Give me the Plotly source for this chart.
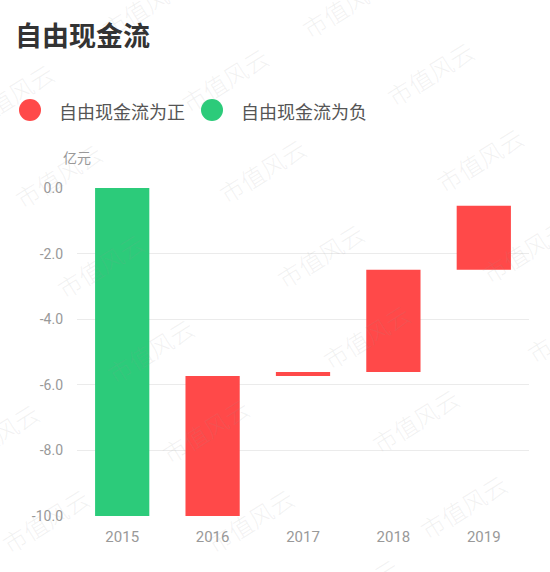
import numpy as np
import plotly.graph_objects as go

# ---- data ----
years = ["2015", "2016", "2017", "2018", "2019"]
fcf_change = [-10.0, 4.27, 0.12, 3.12, 1.95]   # 亿元, yearly free cash flow
y_tickvals = [0, -2, -4, -6, -8, -10]
y_ticktext = ["0.0", "-2.0", "-4.0", "-6.0", "-8.0", "-10.0"]
pos_name = "自由现金流为正"
neg_name = "自由现金流为负"
title_text = "自由现金流"
unit_text = "亿元"
watermark = "市值风云"

RED = "#FF4949"
GREEN = "#2CCB7A"

vals = np.array(fcf_change)
ends = np.cumsum(vals)
bases = ends - vals

pos_idx = [i for i, v in enumerate(vals) if v >= 0]
neg_idx = [i for i, v in enumerate(vals) if v < 0]

fig = go.Figure()
fig.add_trace(go.Bar(
    x=[years[i] for i in neg_idx], y=[vals[i] for i in neg_idx],
    base=[bases[i] for i in neg_idx], name=neg_name,
    marker=dict(color=GREEN, line=dict(width=0)), width=0.6, showlegend=False))
fig.add_trace(go.Bar(
    x=[years[i] for i in pos_idx], y=[vals[i] for i in pos_idx],
    base=[bases[i] for i in pos_idx], name=pos_name,
    marker=dict(color=RED, line=dict(width=0)), width=0.6, showlegend=False))

W, H = 550, 572
L, R, T, B = 77, 529, 188, 516


def px(x):
    return (x - L) / (R - L)


def py(y):
    return (B - y) / (B - T)


FONT = "Roboto, 'Noto Sans CJK SC', sans-serif"
CJK = "'Noto Sans CJK SC', sans-serif"

annotations = []
shapes = []

# title
annotations.append(dict(text=f"<b>{title_text}</b>", xref="paper", yref="paper",
                        x=px(13), y=py(34), xanchor="left", yanchor="middle",
                        showarrow=False, font=dict(family=CJK, size=27, color="#333333")))
# legend (manual, circle markers)
for cx, tx, col, name in [(30, 57, RED, pos_name), (212, 239, GREEN, neg_name)]:
    shapes.append(dict(type="circle", xref="paper", yref="paper",
                       xsizemode="pixel", ysizemode="pixel",
                       xanchor=px(cx), yanchor=py(110),
                       x0=-11, x1=11, y0=-11, y1=11,
                       fillcolor=col, line=dict(width=0)))
    annotations.append(dict(text=name, xref="paper", yref="paper",
                            x=px(tx), y=py(111), xanchor="left", yanchor="middle",
                            showarrow=False, font=dict(family=CJK, size=18, color="#555555")))
# unit
annotations.append(dict(text=unit_text, xref="paper", yref="paper",
                        x=px(61), y=py(157), xanchor="left", yanchor="middle",
                        showarrow=False, font=dict(family=CJK, size=14, color="#999999")))

# watermarks
wm_centers = [(145, 5), (345, 5), (10, 95), (225, 80), (430, 73), (58, 175), (262, 170),
              (480, 160), (100, 265), (320, 255), (525, 250), (150, 350), (366, 336),
              (570, 330), (-5, 435), (205, 430), (415, 420), (45, 520), (250, 520),
              (463, 506), (355, 590)]
for (cx, cy) in wm_centers:
    annotations.append(dict(text=watermark, xref="paper", yref="paper",
                            x=px(cx), y=py(cy), xanchor="center", yanchor="middle",
                            textangle=-32, showarrow=False,
                            font=dict(family=CJK, size=24, weight=300,
                                      color="rgba(150,150,150,0.13)")))

fig.update_layout(
    width=W, height=H,
    margin=dict(l=L, r=W - R, t=T, b=H - B, pad=0),
    paper_bgcolor="white", plot_bgcolor="white",
    barmode="overlay", bargap=0.4,
    showlegend=False,
    font=dict(family=FONT),
    annotations=annotations, shapes=shapes,
    xaxis=dict(type="category", categoryorder="array", categoryarray=years,
               showgrid=False, zeroline=False, showline=False, ticks="",
               ticklabelstandoff=10,
               tickfont=dict(family=FONT, size=15, color="#999999")),
    yaxis=dict(range=[-10, 0], tickvals=y_tickvals, ticktext=y_ticktext,
               showgrid=True, gridcolor="#EBEBEB", gridwidth=1,
               zeroline=False, showline=False, ticks="",
               ticklabelstandoff=13,
               tickfont=dict(family=FONT, size=14, color="#999999")),
)

fig.write_html("out.html", config={"displayModeBar": False},
               post_script="document.body.style.margin='0';document.body.style.overflow='hidden';")
